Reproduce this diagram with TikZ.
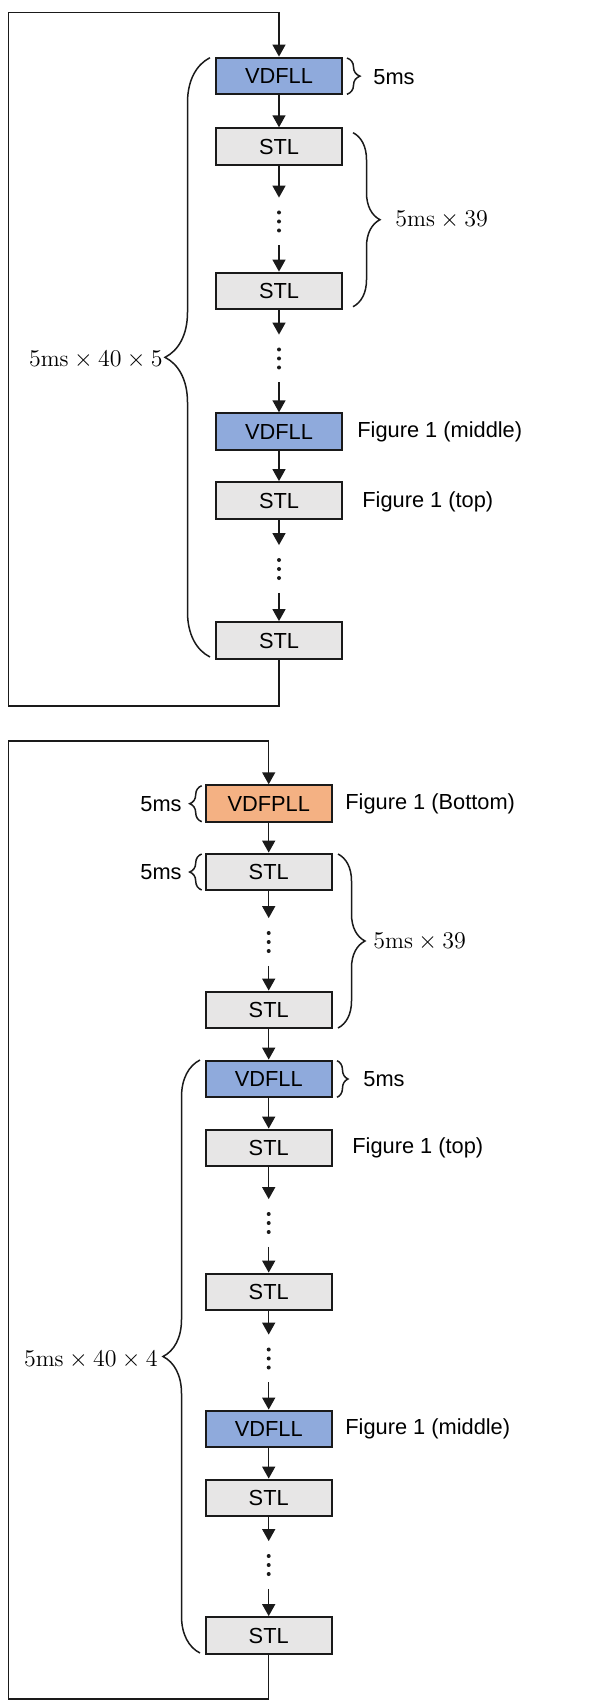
\documentclass[tikz,border=0pt]{standalone}
\usepackage{fontspec}
\usepackage{amsmath}
\usepackage{tikz}
\usetikzlibrary{arrows.meta,decorations.pathreplacing}
\newfontfamily\arialfont{Liberation Sans}
\definecolor{ink}{HTML}{1A1A1A}
\definecolor{fllblue}{HTML}{8FAADC}
\definecolor{stlgray}{HTML}{E7E6E6}
\definecolor{pllorange}{HTML}{F4B183}

\begin{document}
\begin{tikzpicture}[x=0.5pt,y=-0.5pt,
    blk/.style={draw=ink,line width=1pt,minimum width=63pt,minimum height=18.4pt,inner sep=0pt,font=\fontsize{10.9}{13}\arialfont},
    stl/.style={blk,fill=stlgray},
    fll/.style={blk,fill=fllblue},
    pll/.style={blk,fill=pllorange},
    dotgap/.style={minimum height=23.5pt,minimum width=2pt,inner sep=0pt},
    flow/.style={draw=ink,line width=0.75pt,-{Triangle[length=6pt,width=6.5pt]}},
    brc/.style={draw=ink,line width=0.75pt,decorate,decoration={brace,amplitude=#1}},
    lbl/.style={inner sep=0pt,font=\fontsize{10.9}{13}\arialfont},
    mlbl/.style={inner sep=0pt,font=\fontsize{11.6}{13}\selectfont}]
  \useasboundingbox (0,0) rectangle (611,1701);

  % upper chain
  \node[fll] (v1) at (279,76) {VDFLL};
  \node[stl] (s1) at (279,146.7) {STL};
  \node[dotgap] (d1) at (279,221.5) {};
  \node[stl] (s2) at (279,291) {STL};
  \node[dotgap] (d2) at (279,358.5) {};
  \node[fll] (v2) at (279,431.7) {VDFLL};
  \node[stl] (s3) at (279,500.5) {STL};
  \node[dotgap] (d3) at (279,569) {};
  \node[stl] (s4) at (279,640.5) {STL};
  \foreach \a/\b in {v1/s1,s1/d1,d1/s2,s2/d2,d2/v2,v2/s3,s3/d3,d3/s4}
    \draw[flow] (\a) -- (\b);
  \coordinate (tl) at (8.3,12.7);
  \coordinate (bl) at (8.3,706);
  \draw[flow] (s4.south) |- (bl) -- (tl) -| (v1.north);

  \draw[brc=6.5pt] (347,58) -- (347,94.3);
  \node[lbl,anchor=west] (t5ms) at (373,77) {5ms};
  \draw[brc=13.5pt] (353,132.7) -- (353,306.7);
  \node[mlbl,anchor=west] (t39) at (395,220) {$5\mathrm{ms}\times 39$};
  \draw[brc=22.5pt] (210,657) -- (210,57.7);
  \node[mlbl,anchor=east] (t200) at (163,360) {$5\mathrm{ms}\times 40\times 5$};
  \node[lbl,anchor=west] (tmid) at (357,431.7) {Figure 1 (middle)};
  \node[lbl,anchor=west] (ttop) at (362,501.7) {Figure 1 (top)};

  % lower chain
  \node[pll] (p1) at (268.7,803.7) {VDFPLL};
  \node[stl] (b1) at (268.7,872) {STL};
  \node[dotgap] (e1) at (268.7,942) {};
  \node[stl] (b2) at (268.7,1010) {STL};
  \node[fll] (b3) at (268.7,1079) {VDFLL};
  \node[stl] (b4) at (268.7,1148) {STL};
  \node[dotgap] (e2) at (268.7,1223) {};
  \node[stl] (b5) at (268.7,1292) {STL};
  \node[dotgap] (e3) at (268.7,1358.5) {};
  \node[fll] (b6) at (268.7,1429) {VDFLL};
  \node[stl] (b7) at (268.7,1498) {STL};
  \node[dotgap] (e4) at (268.7,1565) {};
  \node[stl] (b8) at (268.7,1635.5) {STL};
  \foreach \a/\b in {p1/b1,b1/e1,e1/b2,b2/b3,b3/b4,b4/e2,e2/b5,b5/e3,e3/b6,b6/b7,b7/e4,e4/b8}
    \draw[flow] (\a) -- (\b);
  \coordinate (tl2) at (8.3,741);
  \coordinate (bl2) at (8.3,1699);
  \draw[flow] (b8.south) |- (bl2) -- (tl2) -| (p1.north);

  \draw[brc=6pt] (201.7,821.7) -- (201.7,785.7);
  \node[lbl,anchor=east] (u5a) at (182,803.7) {5ms};
  \draw[brc=6pt] (201.7,890) -- (201.7,854);
  \node[lbl,anchor=east] (u5b) at (182,872) {5ms};
  \node[lbl,anchor=west] (ubot) at (345,804) {Figure 1 (Bottom)};
  \draw[brc=13.5pt] (338,854) -- (338,1028);
  \node[mlbl,anchor=west] (u39) at (373,941.7) {$5\mathrm{ms}\times 39$};
  \draw[brc=5.5pt] (337,1060.7) -- (337,1097.3);
  \node[lbl,anchor=west] (u5c) at (363,1079) {5ms};
  \node[lbl,anchor=west] (utop) at (352,1148) {Figure 1 (top)};
  \draw[brc=18.5pt] (200,1653) -- (200,1060);
  \node[mlbl,anchor=east] (u160) at (158,1360) {$5\mathrm{ms}\times 40\times 4$};
  \node[lbl,anchor=west] (umid) at (345,1429) {Figure 1 (middle)};

  % vertical ellipses between the arrows
  \foreach \n in {d1,d2,d3,e1,e2,e3,e4}
    \foreach \k in {-4.5,0,4.5}
      \fill[ink] ([yshift=\k pt]\n.center) circle (1pt);
\end{tikzpicture}
\end{document}
